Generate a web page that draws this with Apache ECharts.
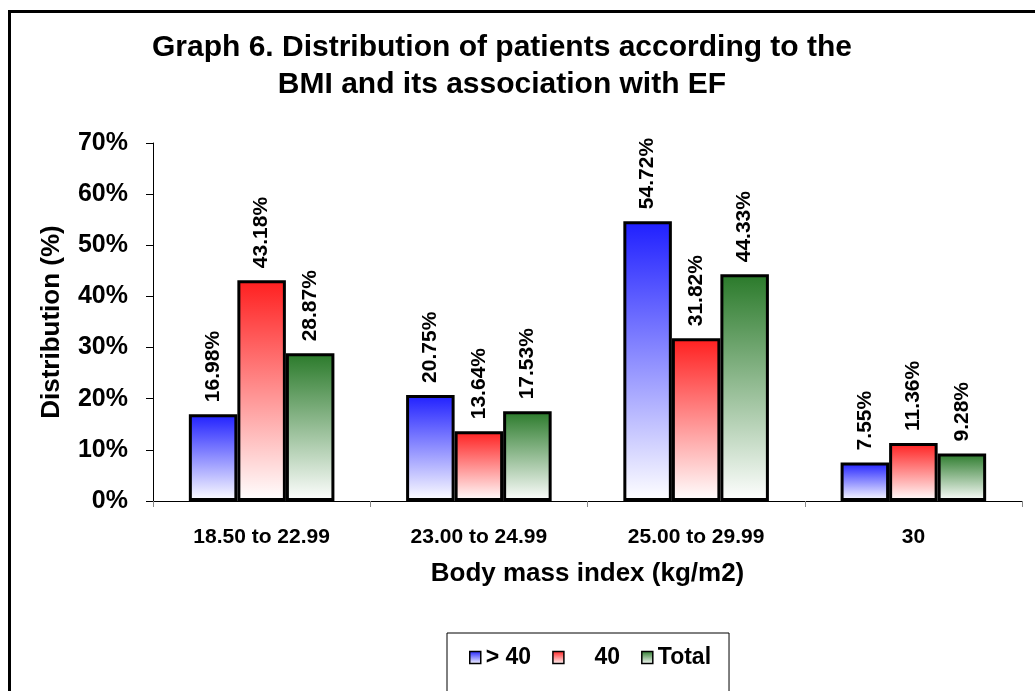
<!DOCTYPE html>
<html>
<head>
<meta charset="utf-8">
<script src="https://cdn.jsdelivr.net/npm/echarts@6/dist/echarts.min.js"></script>
<style>
html,body{margin:0;padding:0;background:#fff;}
#c{width:1035px;height:691px;}
</style>
</head>
<body>
<div id="c"></div>
<script>
const categories = ['18.50 to 22.99', '23.00 to 24.99', '25.00 to 29.99', '30'];
const seriesNames = ['> 40', '    40', 'Total'];
const over40 = [16.98, 20.75, 54.72, 7.55];
const upTo40 = [43.18, 13.64, 31.82, 11.36];
const total = [28.87, 17.53, 44.33, 9.28];
const yTicks = [0, 10, 20, 30, 40, 50, 60, 70];

const FONT = '"Liberation Sans", Arial, sans-serif';
function grad(top) {
  return new echarts.graphic.LinearGradient(0, 0, 0, 1, [
    {offset: 0, color: top},
    {offset: 1, color: '#ffffff'}
  ]);
}
const colors = ['#1f1fff', '#ff1f1f', '#2a7a2a'];
const datas = [over40, upTo40, total];

const chart = echarts.init(document.getElementById('c'));
chart.setOption({
  animation: false,
  backgroundColor: '#fff',
  graphic: [{
    type: 'rect',
    shape: {x: 9.5, y: 11.5, width: 1200, height: 1000},
    style: {fill: 'none', stroke: '#000', lineWidth: 3},
    z: 100
  }],
  title: {
    text: 'Graph 6. Distribution of patients according to the\nBMI and its association with EF',
    left: 502,
    textAlign: 'center',
    top: 29,
    padding: 0,
    textStyle: {fontFamily: FONT, fontWeight: 'bold', fontSize: 30, lineHeight: 37, color: '#000'}
  },
  legend: {
    data: seriesNames,
    top: 633,
    left: 447,
    padding: [13, 18, 40, 22],
    borderColor: '#000',
    borderWidth: 1,
    itemWidth: 11,
    itemHeight: 12,
    itemGap: 21,
    icon: 'rect',
    itemStyle: {borderColor: '#000', borderWidth: 1.5},
    textStyle: {fontFamily: FONT, fontWeight: 'bold', fontSize: 23, color: '#000'}
  },
  grid: {left: 153, right: 13, top: 143, bottom: 190},
  xAxis: {
    type: 'category',
    data: categories,
    name: 'Body mass index (kg/m2)',
    nameLocation: 'middle',
    nameGap: 60,
    nameTextStyle: {fontFamily: FONT, fontWeight: 'bold', fontSize: 26, color: '#000'},
    axisLine: {lineStyle: {color: '#000', width: 1}},
    axisTick: {show: true, length: 6, lineStyle: {color: '#888'}},
    axisLabel: {fontFamily: FONT, fontWeight: 'bold', fontSize: 21, color: '#000', margin: 26}
  },
  yAxis: {
    type: 'value',
    min: 0,
    max: 70,
    interval: 10,
    name: 'Distribution (%)',
    nameLocation: 'middle',
    nameGap: 88,
    nameRotate: 90,
    nameTextStyle: {fontFamily: FONT, fontWeight: 'bold', fontSize: 26, color: '#000'},
    axisLine: {show: true, lineStyle: {color: '#000', width: 1}},
    axisTick: {show: true, length: 7, lineStyle: {color: '#000'}},
    splitLine: {show: false},
    axisLabel: {
      fontFamily: FONT, fontWeight: 'bold', fontSize: 25, color: '#000', margin: 25,
      formatter: v => yTicks.includes(v) ? v + '%' : ''
    }
  },
  series: seriesNames.map((n, i) => ({
    name: n,
    type: 'bar',
    data: datas[i],
    barGap: '0%',
    barCategoryGap: '33%',
    itemStyle: {color: grad(colors[i]), borderColor: '#000', borderWidth: 3},
    label: {
      show: true,
      position: 'top',
      rotate: 90,
      align: 'left',
      verticalAlign: 'middle',
      distance: 12,
      fontFamily: FONT,
      fontWeight: 'bold',
      fontSize: 21,
      color: '#000',
      formatter: p => p.value.toFixed(2) + '%'
    }
  }))
});
</script>
</body>
</html>
